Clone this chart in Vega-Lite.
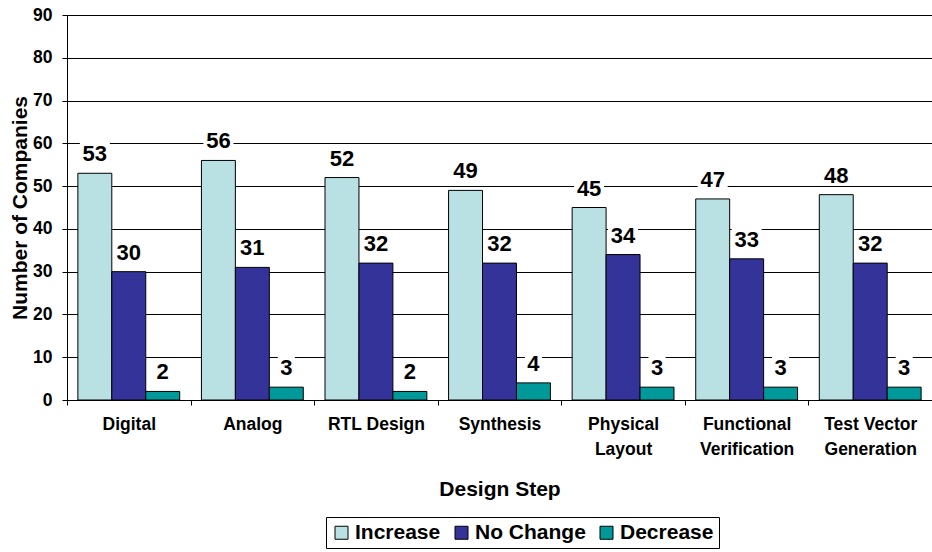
{
  "$schema": "https://vega.github.io/schema/vega-lite/v6.json",
  "width": 865,
  "height": 385,
  "autosize": {"type": "none"},
  "padding": {"left": 67, "top": 15, "right": 0, "bottom": 152},
  "background": "white",
  "data": {
    "values": [
      {"step": "Digital", "series": "Increase", "value": 53},
      {"step": "Digital", "series": "No Change", "value": 30},
      {"step": "Digital", "series": "Decrease", "value": 2},
      {"step": "Analog", "series": "Increase", "value": 56},
      {"step": "Analog", "series": "No Change", "value": 31},
      {"step": "Analog", "series": "Decrease", "value": 3},
      {"step": "RTL Design", "series": "Increase", "value": 52},
      {"step": "RTL Design", "series": "No Change", "value": 32},
      {"step": "RTL Design", "series": "Decrease", "value": 2},
      {"step": "Synthesis", "series": "Increase", "value": 49},
      {"step": "Synthesis", "series": "No Change", "value": 32},
      {"step": "Synthesis", "series": "Decrease", "value": 4},
      {"step": "Physical Layout", "series": "Increase", "value": 45},
      {"step": "Physical Layout", "series": "No Change", "value": 34},
      {"step": "Physical Layout", "series": "Decrease", "value": 3},
      {"step": "Functional Verification", "series": "Increase", "value": 47},
      {"step": "Functional Verification", "series": "No Change", "value": 33},
      {"step": "Functional Verification", "series": "Decrease", "value": 3},
      {"step": "Test Vector Generation", "series": "Increase", "value": 48},
      {"step": "Test Vector Generation", "series": "No Change", "value": 32},
      {"step": "Test Vector Generation", "series": "Decrease", "value": 3}
    ]
  },
  "encoding": {
    "x": {
      "field": "step",
      "type": "nominal",
      "sort": ["Digital", "Analog", "RTL Design", "Synthesis", "Physical Layout", "Functional Verification", "Test Vector Generation"],
      "scale": {"paddingInner": 0, "paddingOuter": 0},
      "axis": {
        "title": "Design Step",
        "labelAngle": 0,
        "tickBand": "extent",
        "tickSize": 5,
        "labelPadding": 10,
        "labelLineHeight": 25,
        "labelExpr": "datum.value == 'Physical Layout' ? ['Physical','Layout'] : datum.value == 'Functional Verification' ? ['Functional','Verification'] : datum.value == 'Test Vector Generation' ? ['Test Vector','Generation'] : datum.value",
        "titleY": 95,
        "titleBaseline": "alphabetic",
        "grid": false
      }
    },
    "xOffset": {
      "field": "series",
      "type": "nominal",
      "sort": ["Increase", "No Change", "Decrease"],
      "scale": {"paddingOuter": 0.32, "paddingInner": 0}
    },
    "y": {
      "field": "value",
      "type": "quantitative",
      "scale": {"domain": [0, 90], "nice": false},
      "axis": {
        "title": "Number of Companies",
        "values": [0, 10, 20, 30, 40, 50, 60, 70, 80, 90],
        "tickSize": 5,
        "labelPadding": 10,
        "grid": true,
        "titleX": -47,
        "titleBaseline": "middle"
      }
    }
  },
  "layer": [
    {
      "mark": {"type": "bar", "stroke": "black", "strokeWidth": 1},
      "encoding": {
        "color": {
          "field": "series",
          "type": "nominal",
          "scale": {"domain": ["Increase", "No Change", "Decrease"], "range": ["#B9E0E3", "#333399", "#009999"]},
          "legend": {
            "title": null,
            "orient": "none",
            "direction": "horizontal",
            "legendX": 259,
            "legendY": 502,
            "symbolType": "square",
            "symbolSize": 169,
            "symbolStrokeColor": "black",
            "symbolStrokeWidth": 1,
            "labelFontSize": 21,
            "labelFontWeight": "bold",
            "labelFont": "Liberation Sans",
            "labelColor": "black",
            "labelOffset": 3,
            "columnPadding": 10,
            "padding": 5,
            "strokeColor": "black",
            "fillColor": "white"
          }
        }
      }
    },
    {
      "mark": {"type": "point", "filled": true, "fill": "white", "stroke": null, "opacity": 1, "size": 900, "yOffset": -20},
      "encoding": {
        "shape": {
          "condition": {"test": "datum.value >= 10", "value": "M-1,-0.733H1V0.733H-1Z"},
          "value": "M-0.57,-0.733H0.57V0.733H-0.57Z"
        }
      }
    },
    {
      "mark": {"type": "text", "dy": -12, "baseline": "alphabetic", "fontSize": 22, "fontWeight": "bold", "font": "Liberation Sans", "color": "black"},
      "encoding": {"text": {"field": "value", "type": "quantitative"}}
    }
  ],
  "config": {
    "view": {"stroke": null},
    "axis": {
      "domainColor": "black",
      "tickColor": "black",
      "gridColor": "black",
      "gridOpacity": 1,
      "labelColor": "black",
      "titleColor": "black",
      "labelFont": "Liberation Sans",
      "titleFont": "Liberation Sans",
      "labelFontSize": 17.5,
      "labelFontWeight": "bold",
      "titleFontSize": 21,
      "titleFontWeight": "bold"
    }
  }
}
